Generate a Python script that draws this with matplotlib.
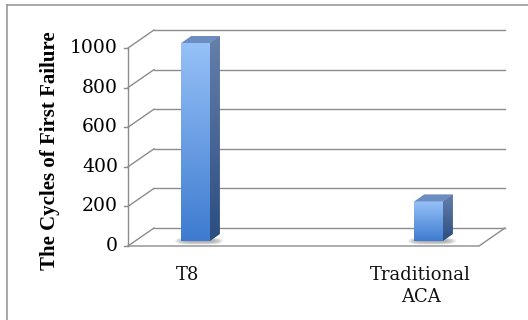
import numpy as np
import matplotlib.pyplot as plt
from matplotlib.patches import Polygon
from matplotlib.lines import Line2D
from matplotlib.colors import LinearSegmentedColormap

categories = ["T8", "Traditional\nACA"]
cycles = [1000, 200]
yticks = [0, 200, 400, 600, 800, 1000]
ylabel = "The Cycles of First Failure"

W, H = 528, 320
fig = plt.figure(figsize=(W / 100, H / 100), dpi=100)
ax = fig.add_axes([0, 0, 1, 1])
ax.set_axis_off()

# pixel scale of the chart box
PX_X = 233.0          # px per category
PX_Y = 0.198          # px per cycle
X0_PX, Y0_PX = 187.5, 246.0

ax.set_xlim(-X0_PX / PX_X, (W - X0_PX) / PX_X)
ax.set_ylim((Y0_PX - H) / PX_Y, Y0_PX / PX_Y)


def dx(px):
    return px / PX_X


def dy(px):
    return px / PX_Y


font = "DejaVu Serif"
grid_c = "#8c8c8c"

# floor and walls
left = dx(128 - X0_PX)
right = dx(479 - X0_PX)
bx, by = dx(26), dy(18)

for v in yticks:
    ax.plot([left + bx, right + bx], [v + by, v + by], color=grid_c, lw=1.0, zorder=1)
    ax.plot([left, left + bx], [v, v + by], color=grid_c, lw=1.0, zorder=1)
    ax.plot([left - dx(4), left], [v, v], color=grid_c, lw=1.0, zorder=1)
    ax.text(left - dx(10), v, str(v), ha="right", va="center",
            fontsize=13.5, family=font, color="#000000")
ax.plot([left, right, right + bx], [0, 0, by], color=grid_c, lw=1.0, zorder=1)
ax.plot([left, left], [0, yticks[-1]], color=grid_c, lw=1.0, zorder=1)

ax.text(dx(50 - X0_PX), 480, ylabel, rotation=90, ha="center", va="center",
        fontsize=15, fontweight="bold", family="Liberation Serif", color="#000000")

for i, lab in enumerate(categories):
    ax.text(i, dy(-20), lab, ha="center", va="top", fontsize=13,
            family=font, color="#111111", linespacing=1.25)

# 3d bars
front_cm = LinearSegmentedColormap.from_list("front", ["#3e7bcf", "#96c1f8"])
side_cm = LinearSegmentedColormap.from_list("side", ["#2b4d80", "#667fab"])
grad = np.linspace(0, 1, 256).reshape(-1, 1)

off = dx(8)
bw = dx(28.5)
fy = dy(5)
bdx, bdy = dx(10), dy(7)

for i, v in enumerate(cycles):
    xc = i + off
    x0, x1 = xc - bw / 2, xc + bw / 2
    top = v + fy

    # soft shadow on the floor
    sx = np.linspace(-1, 1, 80)
    sy = np.linspace(-1, 1, 20)
    gx, gy = np.meshgrid(sx, sy)
    alpha = np.clip(1 - (gx ** 2) ** 2 - gy ** 2, 0, 1) * 0.55
    img = np.zeros((20, 80, 4))
    img[..., :3] = 0.4
    img[..., 3] = alpha
    ax.imshow(img, extent=[x0 - dx(7), x1 + bdx + dx(4), fy - dy(4), fy + dy(4)],
              aspect="auto", zorder=2, interpolation="bilinear")

    bar = ax.bar(xc, v, width=bw, bottom=fy, color="#6a9de6", lw=0, zorder=3)[0]
    im = ax.imshow(grad, extent=[x0, x1, fy, top], origin="lower", cmap=front_cm,
                   aspect="auto", zorder=4)
    im.set_clip_path(bar)

    side = Polygon([(x1, fy), (x1 + bdx, fy + bdy), (x1 + bdx, top + bdy), (x1, top)],
                   closed=True, facecolor="#46679a", lw=0, zorder=3)
    ax.add_patch(side)
    im2 = ax.imshow(grad, extent=[x1, x1 + bdx, fy, top + bdy], origin="lower",
                    cmap=side_cm, aspect="auto", zorder=4)
    im2.set_clip_path(side)

    cap = Polygon([(x0, top), (x0 + bdx, top + bdy), (x1 + bdx, top + bdy), (x1, top)],
                  closed=True, facecolor="#6d8cc0", lw=0, zorder=5)
    ax.add_patch(cap)

ax.set_xlim(-X0_PX / PX_X, (W - X0_PX) / PX_X)
ax.set_ylim((Y0_PX - H) / PX_Y, Y0_PX / PX_Y)

# chart frame
fig.add_artist(Line2D([7 / W, 7 / W], [0, 1 - 5 / H], color="#999999", lw=1.2))
fig.add_artist(Line2D([7 / W, 1], [1 - 5 / H, 1 - 5 / H], color="#999999", lw=1.2))

fig.savefig("out.png", dpi=100)
